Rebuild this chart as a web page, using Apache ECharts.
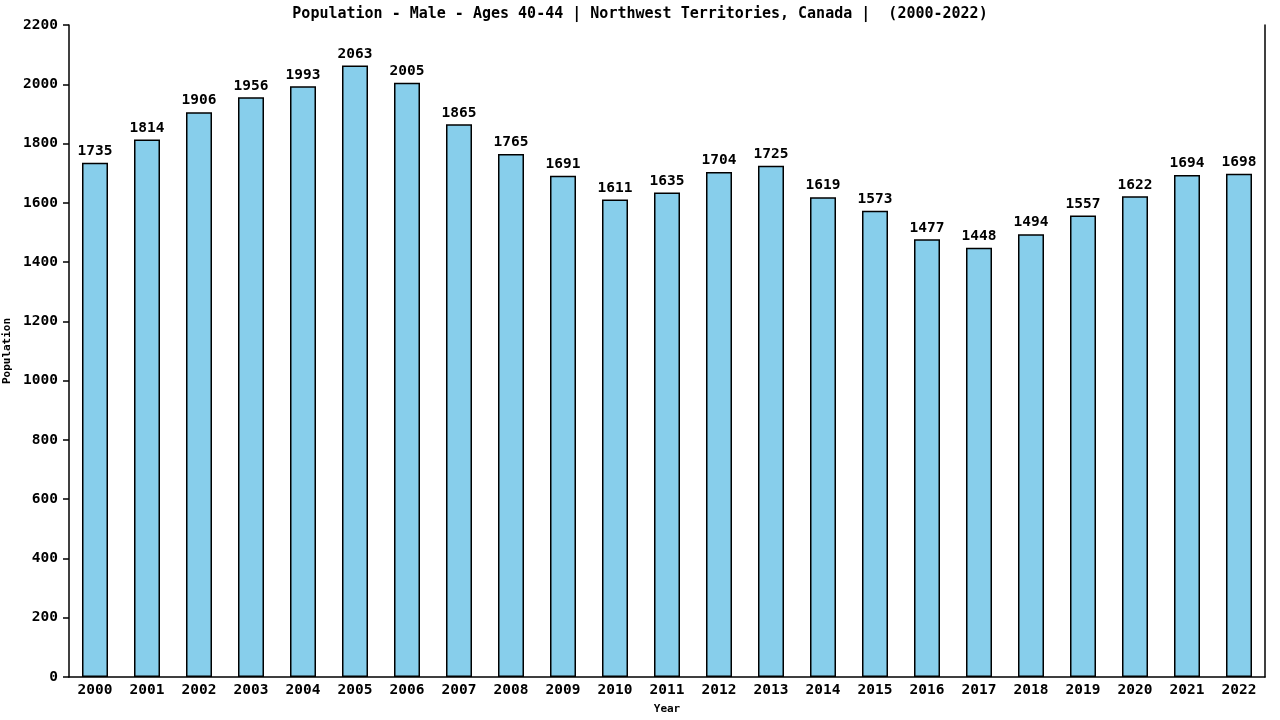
<!DOCTYPE html>
<html>
<head>
<meta charset="utf-8">
<script src="https://cdn.jsdelivr.net/npm/echarts@6/dist/echarts.min.js"></script>
<style>
  html, body { margin: 0; padding: 0; background: #fff; }
  #main { width: 1280px; height: 720px; }
</style>
</head>
<body>
<div id="main"></div>
<script>
var titleText = 'Population - Male - Ages 40-44 | Northwest Territories, Canada |  (2000-2022)';
var years = ['2000','2001','2002','2003','2004','2005','2006','2007','2008','2009','2010','2011',
             '2012','2013','2014','2015','2016','2017','2018','2019','2020','2021','2022'];
var population = [1735,1814,1906,1956,1993,2063,2005,1865,1765,1691,1611,1635,
                  1704,1725,1619,1573,1477,1448,1494,1557,1622,1694,1698];
var yMax = 2200, yStep = 200;

var font = '"DejaVu Sans Mono", monospace';
var textWeight = 'bold';
var myChart = echarts.init(document.getElementById('main'));
var option = {
    animation: false,
    backgroundColor: '#fff',
    title: {
        text: titleText,
        left: 'center',
        top: 2,
        textStyle: { fontFamily: font, fontSize: 15, fontWeight: textWeight, color: '#000' }
    },
    grid: { left: 69, right: 15, top: 25, bottom: 43, containLabel: false, outerBoundsMode: 'none' },
    xAxis: {
        type: 'category',
        data: years,
        name: 'Year',
        nameLocation: 'middle',
        nameGap: 27,
        nameTextStyle: { fontFamily: font, fontSize: 11, fontWeight: 'bold', color: '#000' },
        axisLine: { lineStyle: { color: '#000', width: 1.5 } },
        axisTick: { show: false },
        axisLabel: { fontFamily: font, fontSize: 14.5, fontWeight: textWeight, color: '#000', margin: 6 }
    },
    yAxis: [{
        type: 'value',
        min: 0,
        max: yMax,
        interval: yStep,
        name: 'Population',
        nameLocation: 'middle',
        nameGap: 51,
        nameTextStyle: { fontFamily: font, fontSize: 11, fontWeight: 'bold', color: '#000' },
        axisLine: { show: true, lineStyle: { color: '#000', width: 1.5 } },
        axisTick: { show: true, length: 6, lineStyle: { color: '#000', width: 1.5 } },
        axisLabel: {
            fontFamily: font, fontSize: 14.5, fontWeight: textWeight, color: '#000', margin: 11,
            formatter: function (v) { return String(v); }
        },
        splitLine: { show: false }
    }, {
        type: 'value',
        position: 'right',
        min: 0,
        max: yMax,
        interval: yStep,
        axisLine: { show: true, lineStyle: { color: '#000', width: 1.5 } },
        axisTick: { show: false },
        axisLabel: { show: false },
        splitLine: { show: false }
    }],
    series: [{
        name: 'Population',
        type: 'bar',
        barWidth: '50%',
        data: population,
        itemStyle: { color: '#87ceeb', borderColor: '#000', borderWidth: 1.5 },
        label: {
            show: true,
            position: 'top',
            distance: 4,
            fontFamily: font,
            fontSize: 14.5,
            fontWeight: textWeight,
            color: '#000'
        }
    }]
};
myChart.setOption(option);
</script>
</body>
</html>
